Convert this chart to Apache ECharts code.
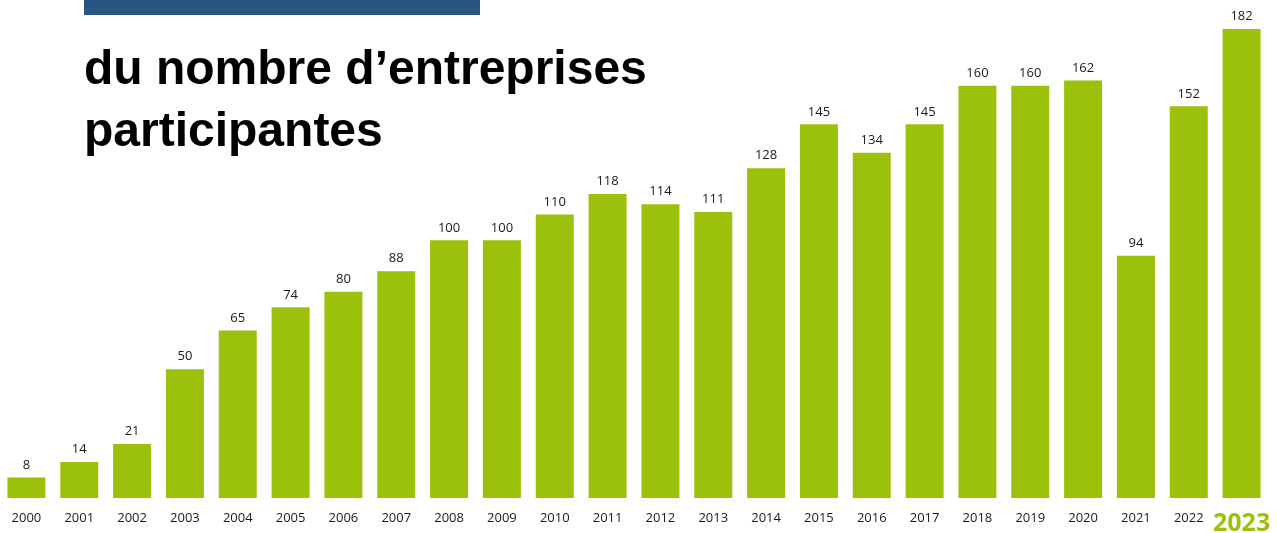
<!DOCTYPE html>
<html><head><meta charset="utf-8">
<script src="https://cdn.jsdelivr.net/npm/echarts@6/dist/echarts.min.js"></script>
<style>html,body{margin:0;padding:0;background:#fff}#c{width:1277px;height:533px}</style>
</head><body><div id="c"></div>
<script>
const years = ['2000','2001','2002','2003','2004','2005','2006','2007','2008','2009','2010','2011','2012','2013','2014','2015','2016','2017','2018','2019','2020','2021','2022','2023'];
const companies = [8,14,21,50,65,74,80,88,100,100,110,118,114,111,128,145,134,145,160,160,162,94,152,182];
const titleLines = ['du nombre d\u2019entreprises','participantes'];

const chart = echarts.init(document.getElementById('c'));
chart.setOption({
  animation:false,
  grid:{left:0,right:9,top:29,bottom:35,containLabel:false,outerBoundsMode:'none'},
  xAxis:{type:'category',data:years,
    axisLine:{show:false},axisTick:{show:false},
    axisLabel:{interval:0,margin:14,fontFamily:'Open Sans',fontSize:13,color:'#1a1a1a',
      formatter:v=> v==='2023' ? '{b|'+v+'}' : v,
      rich:{b:{fontFamily:'Open Sans',fontWeight:'bold',fontSize:25,lineHeight:24,color:'#9CC10A'}}}},
  yAxis:{type:'value',min:0,max:182,show:false,splitLine:{show:false}},
  graphic:[
    {type:'rect',shape:{x:84,y:0,width:396,height:15},style:{fill:'#2A5482'}},
    {type:'text',x:84,y:71,style:{text:titleLines[0],font:'bold 48px "Liberation Sans", Arial',fill:'#000',verticalAlign:'middle'}},
    {type:'text',x:84,y:133,style:{text:titleLines[1],font:'bold 48px "Liberation Sans", Arial',fill:'#000',verticalAlign:'middle'}}
  ],
  series:[{type:'bar',data:companies,barWidth:38,
    itemStyle:{color:'#9CC10A'},
    label:{show:true,position:'top',distance:6,fontFamily:'Open Sans',fontSize:13,color:'#1a1a1a'}}]
});
</script></body></html>
